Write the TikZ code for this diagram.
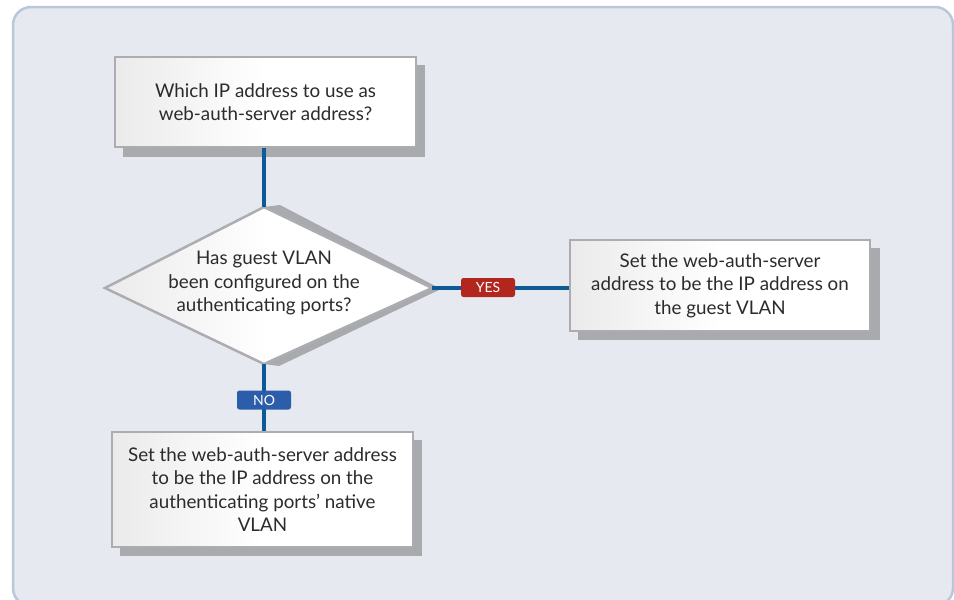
\documentclass[tikz,border=0pt]{standalone}
\usepackage{fontspec}
\setmainfont{Lato}
\usetikzlibrary{shapes.geometric}
\definecolor{panelfill}{HTML}{E6E9EF}
\definecolor{panelline}{HTML}{B8C8DA}
\definecolor{boxline}{HTML}{ABADB0}
\definecolor{shadowgray}{HTML}{A8AAAD}
\definecolor{flowblue}{HTML}{0E5A96}
\definecolor{yesred}{HTML}{B3261E}
\definecolor{noblue}{HTML}{2B5DAB}
\definecolor{txt}{HTML}{2B2B2B}
\tikzset{
  panel/.style={draw=panelline, line width=2.5pt, fill=panelfill, rounded corners=18pt},
  textbox/.style={draw=boxline, line width=2.5pt, left color=white!92!black, right color=white, middle color=white, inner sep=0pt, align=center, text=txt, font=\fontsize{18.8}{23.5}\selectfont},
  flow/.style={draw=flowblue, line width=4pt},
  tag/.style={rounded corners=2.5pt, text=white, font=\fontsize{14}{14}\selectfont, minimum width=54pt, minimum height=19pt, inner sep=0pt}
}
\begin{document}
\begin{tikzpicture}[x=1pt,y=-1pt]
\useasboundingbox (0,0) rectangle (954,600);
\path[panel] (13,7) rectangle (953,606);
% shadows
\fill[shadowgray] (123,65) rectangle (425,157);
\fill[shadowgray] (578,248) rectangle (880,340);
\fill[shadowgray] (120,440) rectangle (422,556);
\fill[shadowgray] (264,207) -- (280,205) -- (441,289) -- (279,366) -- (264,364) -- cycle;
% nodes
\node[textbox, minimum width=301pt, minimum height=90pt] (q) at (265.5,102) {Which IP address to use as\\web-auth-server address?};
\node[textbox, minimum width=300pt, minimum height=91pt] (yesbox) at (720,285.5) {Set the web-auth-server\\address to be the IP address on\\the guest VLAN};
\node[textbox, minimum width=301pt, minimum height=115pt] (nobox) at (262.5,489.5) {Set the web-auth-server address\\to be the IP address on the\\authenticating ports' native\\VLAN};
\path[draw=boxline, line width=2.5pt, left color=white!92!black, right color=white, middle color=white] (264,207) coordinate (dt) -- (432,288) coordinate (dr) -- (264,364) coordinate (db) -- (105,288) coordinate (dl) -- cycle;
\node[align=center, text=txt, font=\fontsize{18.8}{23.5}\selectfont] (dtext) at (264,283) {Has guest VLAN\\been configured on the\\authenticating ports?};
% connectors
\draw[flow] (q.south -| dt) -- (dt);
\draw[flow] (dr) -- (dr -| yesbox.west);
\draw[flow] (db) -- (db |- nobox.north);
% tags
\node[tag, fill=yesred] (yes) at (488,287.5) {YES};
\node[tag, fill=noblue] (no) at (264,400) {NO};
\end{tikzpicture}
\end{document}
